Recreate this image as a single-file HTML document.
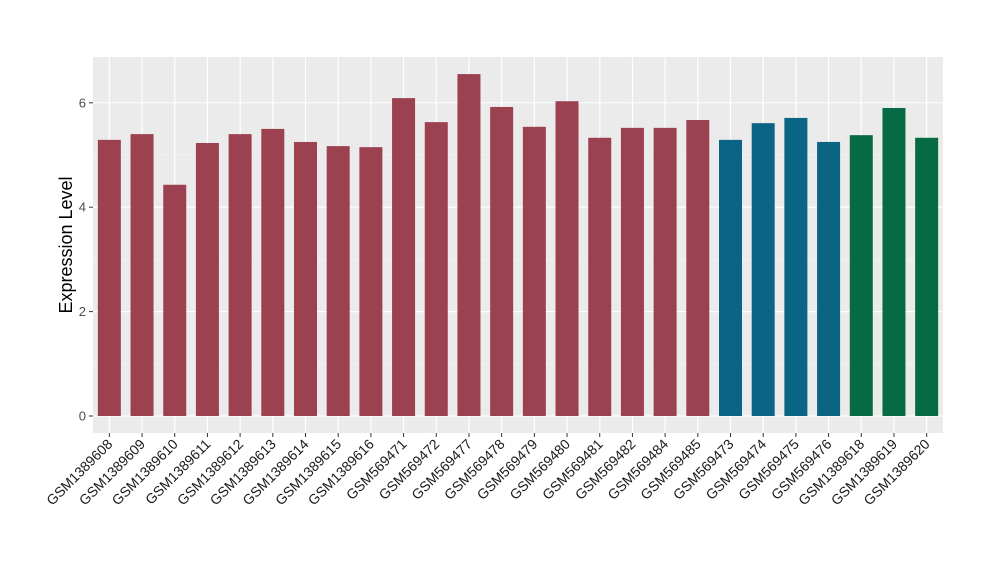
<!DOCTYPE html>
<html><head><meta charset="utf-8"><style>
body{margin:0;background:#fff;font-family:"Liberation Sans",sans-serif}
</style></head><body>
<svg width="1000" height="580" id="chart" xmlns="http://www.w3.org/2000/svg"></svg>
<script>
const categories=["GSM1389608","GSM1389609","GSM1389610","GSM1389611","GSM1389612","GSM1389613","GSM1389614","GSM1389615","GSM1389616","GSM569471","GSM569472","GSM569477","GSM569478","GSM569479","GSM569480","GSM569481","GSM569482","GSM569484","GSM569485","GSM569473","GSM569474","GSM569475","GSM569476","GSM1389618","GSM1389619","GSM1389620"];
const values=[5.29,5.40,4.43,5.23,5.40,5.50,5.25,5.17,5.15,6.09,5.63,6.55,5.92,5.54,6.03,5.33,5.52,5.52,5.67,5.29,5.61,5.71,5.25,5.38,5.90,5.33];
const groups=[0,0,0,0,0,0,0,0,0,0,0,0,0,0,0,0,0,0,0,1,1,1,1,2,2,2];
const groupColors=["#9b4150","#0b6484","#066a45"];
const yTicks=[0,2,4,6];
const NS="http://www.w3.org/2000/svg";
const svg=document.getElementById('chart');
const L=93,R=943,T=57,B=433;
const y=v=>416-v*52.2;
const step=(R-L)/categories.length;
const x=i=>L+step*(i+0.5);
function mk(tag,attrs,parent){const e=document.createElementNS(NS,tag);for(const k in attrs)e.setAttribute(k,attrs[k]);(parent||svg).appendChild(e);return e;}
const panel=mk('rect',{x:L,y:T,width:R-L,height:B-T,fill:"#ebebeb"});


for(let v=1;v<7;v+=2){const g=mk('line',{x1:L,x2:R,y1:y(v),y2:y(v),stroke:"#f5f5f5","stroke-width":0.6});

}
yTicks.forEach(v=>{const g=mk('line',{x1:L,x2:R,y1:y(v),y2:y(v),stroke:"#fff","stroke-width":1.2});


const tk=mk('line',{x1:L-4,x2:L,y1:y(v),y2:y(v),stroke:"#333"});


const t=mk('text',{x:L-7,y:y(v)+4.5,"text-anchor":"end","font-size":13,fill:"#4d4d4d"});t.textContent=v;

});
categories.forEach((c,i)=>{const g=mk('line',{x1:x(i),x2:x(i),y1:T,y2:B,stroke:"#fff","stroke-width":1.2});

});
categories.forEach((c,i)=>{const bw=23;
const b=mk('rect',{x:x(i)-bw/2,y:y(values[i]),width:bw,height:y(0)-y(values[i]),fill:groupColors[groups[i]]});


const tk=mk('line',{x1:x(i),x2:x(i),y1:B,y2:B+4,stroke:"#333"});


const t=mk('text',{x:x(i)+4,y:B+12,"text-anchor":"end","font-size":14,fill:"#1a1a1a",transform:`rotate(-45 ${x(i)+4} ${B+12})`});t.textContent=c;

});
const yt=mk('text',{x:72,y:(T+B)/2,"text-anchor":"middle","font-size":18,fill:"#000",transform:`rotate(-90 72 ${(T+B)/2})`});yt.textContent="Expression Level";


</script>
</body></html>
